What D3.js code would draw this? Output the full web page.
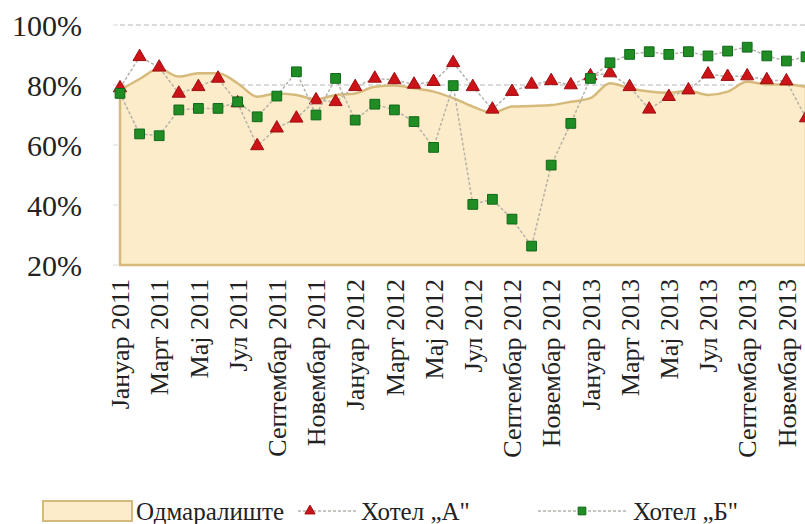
<!DOCTYPE html>
<html>
<head>
<meta charset="utf-8">
<script src="https://cdn.jsdelivr.net/npm/d3@7"></script>
<style>
  body { margin: 0; background: #fff; }
</style>
</head>
<body>
<script>
// months shown on the x axis (every other one gets a label)
let months = [
  'Јануар 2011', 'Фебруар 2011', 'Март 2011', 'Април 2011', 'Мај 2011', 'Јун 2011',
  'Јул 2011', 'Август 2011', 'Септембар 2011', 'Октобар 2011', 'Новембар 2011', 'Децембар 2011',
  'Јануар 2012', 'Фебруар 2012', 'Март 2012', 'Април 2012', 'Мај 2012', 'Јун 2012',
  'Јул 2012', 'Август 2012', 'Септембар 2012', 'Октобар 2012', 'Новембар 2012', 'Децембар 2012',
  'Јануар 2013', 'Фебруар 2013', 'Март 2013', 'Април 2013', 'Мај 2013', 'Јун 2013',
  'Јул 2013', 'Август 2013', 'Септембар 2013', 'Октобар 2013', 'Новембар 2013', 'Децембар 2013'
]

// occupancy in %
let resort = [
  78.3, 82.0, 85.4, 82.8, 83.9, 83.9, 80.6, 76.1, 77.2, 76.7, 75.2, 76.7,
  77.2, 79.4, 79.8, 78.9, 77.8, 75.6, 72.8, 70.8, 72.8, 73.0, 73.3, 74.4,
  75.6, 80.6, 78.9, 77.8, 77.4, 78.1, 76.7, 77.8, 81.1, 80.2, 80.2, 79.4
]
let hotelA = [
  79.0, 89.4, 85.9, 77.2, 79.4, 82.2, 74.0, 59.7, 65.6, 68.9, 75.0, 74.4,
  79.4, 82.2, 81.7, 80.2, 81.1, 87.4, 79.4, 71.9, 77.8, 80.2, 81.4, 80.0,
  83.0, 84.0, 79.4, 71.9, 76.1, 78.3, 83.6, 82.8, 83.0, 81.7, 81.3, 69.0
]
let hotelB = [
  77.2, 63.7, 63.1, 71.7, 72.2, 72.2, 74.4, 69.4, 76.3, 84.4, 70.0, 82.2,
  68.3, 73.6, 71.7, 67.8, 59.2, 79.8, 40.2, 41.9, 35.3, 26.3, 53.3, 67.2,
  82.2, 87.4, 90.2, 91.1, 90.2, 91.1, 89.7, 91.3, 92.6, 89.7, 88.0, 89.4
]
let yTicks = [20, 40, 60, 80, 100]
let legendNames = ['Одмаралиште', 'Хотел „А"', 'Хотел „Б"']

let m = {
  width: 805,
  height: 524,
  left: 120,
  right: 806,
  top: 25,
  bottom: 265
}

let font = "'Liberation Serif', 'Times New Roman', serif"

let svg = d3.select('body')
  .append('svg')
  .attr('width', m.width)
  .attr('height', m.height)

let xScale = d3.scalePoint()
  .domain(months)
  .range([m.left, m.right])

let yScale = d3.scaleLinear()
  .domain([20, 100])
  .range([m.bottom, m.top])

// grid lines (the area hides the lower ones)
svg.selectAll('.grid')
  .data(yTicks.slice(1))
  .enter()
  .append('line')
    .attr('x1', m.left)
    .attr('x2', m.width)
    .attr('y1', function(d) { return yScale(d) })
    .attr('y2', function(d) { return yScale(d) })
    .attr('stroke', '#cfcfcf')
    .attr('stroke-width', 1.5)
    .attr('stroke-dasharray', '5,3')

// small ticks left of the plot
svg.selectAll('.ytick')
  .data(yTicks)
  .enter()
  .append('line')
    .attr('x1', m.left - 7)
    .attr('x2', m.left - 2)
    .attr('y1', function(d) { return yScale(d) })
    .attr('y2', function(d) { return yScale(d) })
    .attr('stroke', '#d8d8d8')

svg.selectAll('.ylabel')
  .data(yTicks)
  .enter()
  .append('text')
    .attr('x', 82)
    .attr('y', function(d) { return yScale(d) })
    .attr('dy', '0.35em')
    .attr('text-anchor', 'end')
    .style('font-family', font)
    .style('font-size', '30px')
    .style('fill', '#222')
    .text(function(d) { return d + '%' })

// resort as an area
let area = d3.area()
  .x(function(d, i) { return xScale(months[i]) })
  .y0(m.bottom)
  .y1(function(d) { return yScale(d) })
  .curve(d3.curveMonotoneX)

svg.append('path')
  .datum(resort)
  .attr('d', area)
  .attr('fill', '#fdecc9')
  .attr('stroke', '#d6ba7c')
  .attr('stroke-width', 2.5)

let line = d3.line()
  .x(function(d, i) { return xScale(months[i]) })
  .y(function(d) { return yScale(d) })

let triangle = d3.symbol().type(d3.symbolTriangle).size(75)
let square = d3.symbol().type(d3.symbolSquare).size(95)

function drawSeries(values, symbol, fill, edge) {
  svg.append('path')
    .datum(values)
    .attr('d', line)
    .attr('fill', 'none')
    .attr('stroke', '#b5b2aa')
    .attr('stroke-width', 1.5)
    .attr('stroke-dasharray', '3,2')

  svg.append('g')
    .selectAll('path')
    .data(values)
    .enter()
    .append('path')
      .attr('d', symbol)
      .attr('transform', function(d, i) {
        return 'translate(' + xScale(months[i]) + ',' + yScale(d) + ')'
      })
      .attr('fill', fill)
      .attr('stroke', edge)
      .attr('stroke-width', 1)
}

drawSeries(hotelA, triangle, '#cc1418', '#9e0e10')
drawSeries(hotelB, square, '#1f8d24', '#11691a')

// rotated month labels, every other month
svg.selectAll('.xlabel')
  .data(months.filter(function(d, i) { return i % 2 == 0 }))
  .enter()
  .append('text')
    .attr('transform', function(d) {
      return 'translate(' + xScale(d) + ',279) rotate(-90)'
    })
    .attr('dy', '0.35em')
    .attr('text-anchor', 'end')
    .style('font-family', font)
    .style('font-size', '26px')
    .style('fill', '#222')
    .text(function(d) { return d })

// legend
let ly = 511
let legend = svg.append('g')

legend.append('rect')
  .attr('x', 43)
  .attr('y', 501)
  .attr('width', 89)
  .attr('height', 20)
  .attr('fill', '#fdecc9')
  .attr('stroke', '#d6ba7c')
  .attr('stroke-width', 2)

legend.append('line')
  .attr('x1', 298).attr('x2', 356)
  .attr('y1', ly).attr('y2', ly)
  .attr('stroke', '#b5b2aa')
  .attr('stroke-width', 1.5)
  .attr('stroke-dasharray', '3,2')

legend.append('path')
  .attr('d', d3.symbol().type(d3.symbolTriangle).size(45))
  .attr('transform', 'translate(310,' + ly + ')')
  .attr('fill', '#cc1418')
  .attr('stroke', '#9e0e10')

legend.append('line')
  .attr('x1', 538).attr('x2', 628)
  .attr('y1', ly).attr('y2', ly)
  .attr('stroke', '#b5b2aa')
  .attr('stroke-width', 1.5)
  .attr('stroke-dasharray', '3,2')

legend.append('path')
  .attr('d', d3.symbol().type(d3.symbolSquare).size(60))
  .attr('transform', 'translate(582,' + ly + ')')
  .attr('fill', '#1f8d24')
  .attr('stroke', '#11691a')

legend.selectAll('text')
  .data(legendNames)
  .enter()
  .append('text')
    .attr('x', function(d, i) { return [136, 361, 633][i] })
    .attr('y', ly)
    .attr('dy', '0.35em')
    .style('font-family', font)
    .style('font-size', '25px')
    .style('fill', '#222')
    .text(function(d) { return d })
</script>
</body>
</html>
